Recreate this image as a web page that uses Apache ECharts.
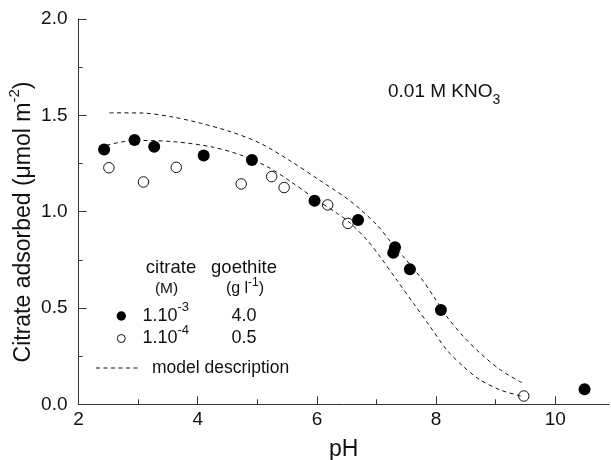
<!DOCTYPE html>
<html><head><meta charset="utf-8">
<script src="https://cdn.jsdelivr.net/npm/echarts@6/dist/echarts.min.js"></script>
<style>html,body{margin:0;padding:0;background:#fff}#c{width:611px;height:460px}</style>
</head><body><div id="c"></div>
<script>
// citrate 1e-3 M, goethite 4.0 g/l (filled)
const filledPH  = [2.43, 2.94, 3.27, 4.10, 4.91, 5.96, 6.69, 7.31, 7.28, 7.56, 8.08, 10.49];
const filledVal = [1.322, 1.372, 1.337, 1.291, 1.268, 1.057, 0.957, 0.815, 0.787, 0.701, 0.490, 0.078];
// citrate 1e-4 M, goethite 0.5 g/l (open)
const openPH  = [2.51, 3.09, 3.64, 4.73, 5.24, 5.45, 6.18, 6.52, 9.47];
const openVal = [1.228, 1.154, 1.230, 1.144, 1.182, 1.125, 1.035, 0.939, 0.043];
// model description curves
const modelHighPH  = [2.52, 3.05, 3.55, 4.05, 4.55, 5.05, 5.56, 6.06, 6.56, 7.01, 7.23, 7.45, 7.73, 7.96, 8.18, 8.46, 8.74, 9.08, 9.44];
const modelHighVal = [1.513, 1.512, 1.493, 1.459, 1.415, 1.355, 1.262, 1.160, 1.055, 0.930, 0.846, 0.766, 0.662, 0.559, 0.455, 0.351, 0.265, 0.178, 0.112];
const modelLowPH  = [2.47, 2.94, 3.60, 4.22, 4.72, 5.17, 5.56, 6.00, 6.34, 6.56, 6.84, 7.06, 7.34, 7.62, 7.90, 8.18, 8.46, 8.74, 9.08, 9.36, 9.46];
const modelLowVal = [1.345, 1.370, 1.363, 1.337, 1.294, 1.233, 1.156, 1.060, 0.991, 0.940, 0.853, 0.766, 0.645, 0.524, 0.403, 0.282, 0.195, 0.126, 0.074, 0.048, 0.040];
// ticks
const xTickValues = [2, 4, 6, 8, 10];
const xMinorTickValues = [3, 5, 7, 9];
const yTickLabels = ['0.0', '0.5', '1.0', '1.5', '2.0'];

const FONT = '"Liberation Sans", Arial, Helvetica, sans-serif';
const zip = (a, b) => a.map((v, i) => [v, b[i]]);
const chart = echarts.init(document.getElementById('c'));
const axisColor = '#333';
const dash = [4, 3.5];

function txt(x, y, text, opts) {
  return {
    type: 'text', x: x, y: y, silent: true,
    style: Object.assign({ text: text, fill: '#111', fontFamily: FONT, fontSize: 18, align: 'center', verticalAlign: 'middle' }, opts || {})
  };
}
const supRich = {
  m: { fontSize: 18, fontFamily: FONT, lineHeight: 30, verticalAlign: 'middle', fill: '#111' },
  s: { fontSize: 13, fontFamily: FONT, lineHeight: 12, verticalAlign: 'top', fill: '#111' }
};
const subRich = {
  m: { fontSize: 19, fontFamily: FONT, lineHeight: 30, verticalAlign: 'middle', fill: '#111' },
  s: { fontSize: 14, fontFamily: FONT, lineHeight: 12, verticalAlign: 'bottom', fill: '#111' }
};

const option = {
  animation: false,
  backgroundColor: '#fff',
  grid: { left: 78.5, right: 2, top: 19, bottom: 55.7, outerBoundsMode: 'none', containLabel: false },
  xAxis: [{
    type: 'value', min: 2, max: 10.9,
    axisLine: { show: true, onZero: false, lineStyle: { color: axisColor, width: 1 } },
    axisTick: { show: true, inside: true, length: 8, customValues: xTickValues, lineStyle: { color: axisColor } },
    axisLabel: { customValues: xTickValues, fontSize: 19, color: '#111', fontFamily: FONT, margin: 6 },
    splitLine: { show: false },
    name: 'pH', nameLocation: 'middle', nameGap: 34,
    nameTextStyle: { fontSize: 23, color: '#111', fontFamily: FONT }
  }, {
    type: 'value', min: 2, max: 10.9, position: 'bottom',
    axisLine: { show: false },
    axisTick: { show: true, inside: true, length: 5, customValues: xMinorTickValues, lineStyle: { color: axisColor } },
    axisLabel: { show: false }, splitLine: { show: false }
  }],
  yAxis: {
    type: 'value', min: 0, max: 2, interval: 0.5,
    axisLine: { show: true, lineStyle: { color: axisColor, width: 1 } },
    axisTick: { show: true, inside: true, length: 8, lineStyle: { color: axisColor } },
    minorTick: { show: true, splitNumber: 2, length: 4, lineStyle: { color: axisColor } },
    axisLabel: { formatter: (v, i) => yTickLabels[i], fontSize: 19, color: '#111', fontFamily: FONT, margin: 11 },
    splitLine: { show: false }, minorSplitLine: { show: false }
  },
  series: [
    { type: 'line', data: zip(modelHighPH, modelHighVal), smooth: 0.3, showSymbol: false, silent: true,
      lineStyle: { color: '#111', width: 1, type: dash } },
    { type: 'line', data: zip(modelLowPH, modelLowVal), smooth: 0.3, showSymbol: false, silent: true,
      lineStyle: { color: '#111', width: 1, type: dash } },
    { type: 'scatter', data: zip(openPH, openVal), symbol: 'circle', symbolSize: 10.5,
      itemStyle: { color: '#fff', borderColor: '#111', borderWidth: 1, opacity: 1 } },
    { type: 'scatter', data: zip(filledPH, filledVal), symbol: 'circle', symbolSize: 12,
      itemStyle: { color: '#000', opacity: 1 } }
  ],
  graphic: [
    // y axis title
    { type: 'text', x: 24, y: 222, rotation: Math.PI / 2, silent: true,
      style: { text: '{m|Citrate adsorbed (μmol m}{s|-2}{m|)}', align: 'center', verticalAlign: 'middle',
        rich: { m: { fontSize: 23, fontFamily: FONT, lineHeight: 34, verticalAlign: 'middle', fill: '#111' },
                s: { fontSize: 15, fontFamily: FONT, lineHeight: 14, verticalAlign: 'top', fill: '#111' } } } },
    // annotation
    { type: 'text', x: 388, y: 92, silent: true,
      style: { text: '{m|0.01 M KNO}{s|3}', rich: subRich, align: 'left', verticalAlign: 'middle' } },
    // legend
    txt(171, 268, 'citrate', { fontSize: 18.5 }),
    txt(244, 268, 'goethite', { fontSize: 18.5 }),
    txt(166.5, 289, '(M)', { fontSize: 15.5 }),
    { type: 'text', x: 245, y: 289, silent: true,
      style: { text: '{m|(g l}{s|-1}{m|)}', align: 'center', verticalAlign: 'middle',
        rich: { m: { fontSize: 16, fontFamily: FONT, lineHeight: 24, verticalAlign: 'middle', fill: '#111' },
                s: { fontSize: 12, fontFamily: FONT, lineHeight: 12, verticalAlign: 'top', fill: '#111' } } } },
    { type: 'circle', shape: { cx: 121.3, cy: 316, r: 4.7 }, style: { fill: '#000' }, silent: true },
    { type: 'text', x: 142.5, y: 316, silent: true,
      style: { text: '{m|1.10}{s|-3}', rich: supRich, align: 'left', verticalAlign: 'middle' } },
    txt(244, 316, '4.0'),
    { type: 'circle', shape: { cx: 121.3, cy: 338.5, r: 4 }, style: { fill: '#fff', stroke: '#111', lineWidth: 1 }, silent: true },
    { type: 'text', x: 142.5, y: 338.5, silent: true,
      style: { text: '{m|1.10}{s|-4}', rich: supRich, align: 'left', verticalAlign: 'middle' } },
    txt(244, 338.5, '0.5'),
    { type: 'line', shape: { x1: 96, y1: 368, x2: 139, y2: 368 }, style: { stroke: '#111', lineWidth: 1, lineDash: dash }, silent: true },
    txt(152, 368, 'model description', { align: 'left', fontSize: 17.5 })
  ]
};
chart.setOption(option);
</script>
</body></html>
